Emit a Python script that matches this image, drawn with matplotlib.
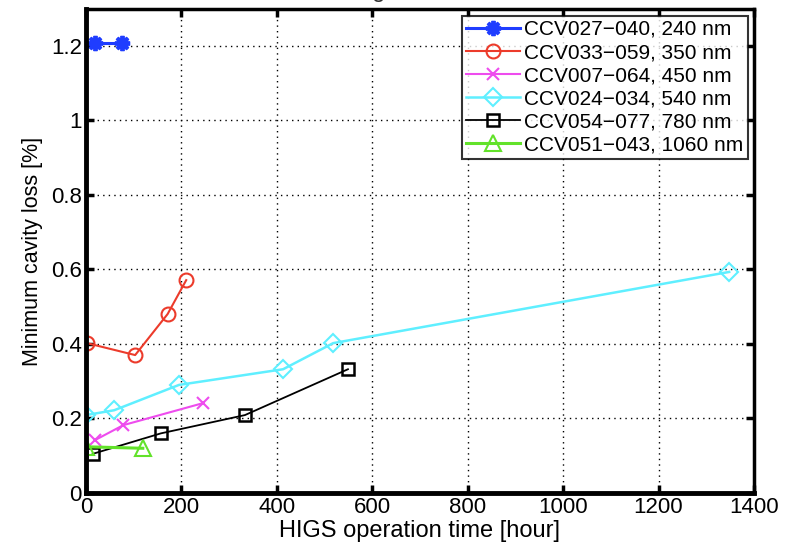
import matplotlib.pyplot as plt

plt.rcParams['font.family'] = ['Liberation Sans', 'DejaVu Sans']

# Minimum cavity loss vs operation time
t_240 = [19, 75]
loss_240 = [1.207, 1.207]

t_350 = [2, 103, 171, 210]
loss_350 = [0.402, 0.370, 0.480, 0.571]

t_450 = [19, 78, 245]
loss_450 = [0.142, 0.182, 0.241]

t_540 = [0, 59, 195, 413, 518, 1348]
loss_540 = [0.209, 0.222, 0.290, 0.332, 0.402, 0.593]

t_780 = [14, 157, 333, 549]
loss_780 = [0.105, 0.160, 0.209, 0.332]

t_1060 = [0, 119]
loss_1060 = [0.124, 0.120]

labels = ["CCV027\u2212040, 240 nm", "CCV033\u2212059, 350 nm", "CCV007\u2212064, 450 nm",
          "CCV024\u2212034, 540 nm", "CCV054\u2212077, 780 nm", "CCV051\u2212043, 1060 nm"]

fig = plt.figure(figsize=(7.95, 5.45), dpi=100)
ax = fig.add_axes([0.1082, 0.0954, 0.8402, 0.8872])

ms = 9
ax.plot(t_240, loss_240, color="#1f3dff", marker=(8, 2, 0), ms=ms + 2, mew=2.8, lw=2.2, label=labels[0])
ax.plot(t_350, loss_350, color="#ec3b2b", marker="o", ms=ms + 1, mfc="none", mew=1.5, lw=1.5, label=labels[1])
ax.plot(t_450, loss_450, color="#ee4cee", marker="x", ms=ms, mew=1.5, lw=1.5, label=labels[2])
ax.plot(t_540, loss_540, color="#5fefff", marker="D", ms=ms, mfc="none", mew=1.5, lw=1.8, label=labels[3])
ax.plot(t_780, loss_780, color="black", marker="s", ms=ms, mfc="none", mew=1.8, lw=1.3, label=labels[4])
ax.plot(t_1060, loss_1060, color="#62e22a", marker="^", ms=ms + 3, mfc="none", mew=1.5, lw=2.2, label=labels[5])

ax.set_xlim(0, 1400)
ax.set_ylim(0, 1.297)
ax.set_xticks(range(0, 1401, 200))
ax.set_yticks([0, 0.2, 0.4, 0.6, 0.8, 1, 1.2])
ax.set_yticklabels(["0", "0.2", "0.4", "0.6", "0.8", "1", "1.2"])
ax.tick_params(direction="in", top=True, right=True, length=6, width=2.5, labelsize=16, pad=3)
ax.grid(True, color="black", linestyle=(0, (1, 3)), linewidth=1)
ax.set_axisbelow(True)
for side in ["left", "bottom"]:
    ax.spines[side].set_linewidth(3.5)
for side in ["top", "right"]:
    ax.spines[side].set_linewidth(2.5)

ax.set_xlabel("HIGS operation time [hour]", fontsize=17, labelpad=1)
ax.set_ylabel("Minimum cavity loss [%]", fontsize=15.5, labelpad=6)

leg = ax.legend(loc="upper right", fontsize=15, frameon=True, fancybox=False,
                edgecolor="black", borderaxespad=0.3, handlelength=2.6,
                handletextpad=0.2, labelspacing=0.2, borderpad=0.2)
leg.get_frame().set_linewidth(1.5)

# title is mostly cut off at the top edge in the original
fig.text(0.472, 0.996, "Wavelength in nm", fontsize=17, ha="center", va="bottom", color="#333333")

fig.savefig("out.png", dpi=100)
